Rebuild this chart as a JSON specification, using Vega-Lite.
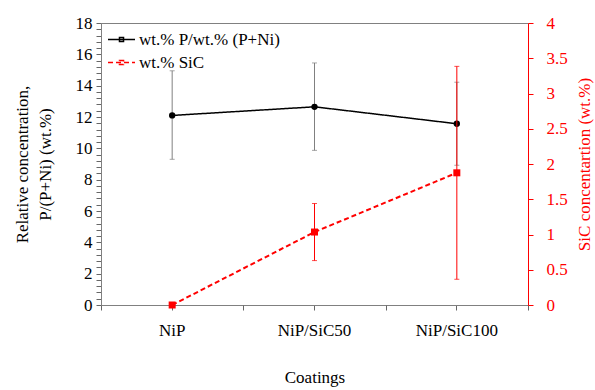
{
  "$schema": "https://vega.github.io/schema/vega-lite/v6.json",
  "width": 427,
  "height": 282,
  "autosize": {"type": "none"},
  "padding": {"left": 101, "top": 23, "right": 67, "bottom": 85},
  "background": "white",
  "config": {
    "view": {"stroke": "#808080", "strokeWidth": 1},
    "font": "Liberation Serif",
    "axis": {
      "labelFont": "Liberation Serif",
      "titleFont": "Liberation Serif",
      "labelFontSize": 17,
      "titleFontSize": 17,
      "titleFontWeight": "normal",
      "labelColor": "black",
      "titleColor": "black",
      "grid": false,
      "domainColor": "#808080",
      "ticks": true,
      "tickColor": "#666666",
      "tickWidth": 1,
      "tickOpacity": 1,
      "tickSize": 5
    },
    "legend": {
      "orient": "none",
      "legendX": 6,
      "legendY": 2,
      "labelFont": "Liberation Serif",
      "labelFontSize": 17,
      "labelColor": "black",
      "symbolSize": 729,
      "symbolStrokeWidth": 1.5,
      "symbolType": "M-1,0H1M-0.15,-0.15H0.15V0.15H-0.15Z",
      "rowPadding": -4,
      "labelOffset": 3,
      "padding": 0
    }
  },
  "data": {
    "values": [
      {"coating": "NiP", "p": 12.1, "p_lo": 9.3, "p_hi": 14.95, "sic": 0, "sic_lo": 0, "sic_hi": 0},
      {"coating": "NiP/SiC50", "p": 12.65, "p_lo": 9.87, "p_hi": 15.45, "sic": 1.035, "sic_lo": 0.63, "sic_hi": 1.44},
      {"coating": "NiP/SiC100", "p": 11.57, "p_lo": 8.92, "p_hi": 14.22, "sic": 1.875, "sic_lo": 0.365, "sic_hi": 3.385}
    ]
  },
  "layer": [
    {
      "mark": {"type": "rule", "color": "#808080", "strokeWidth": 1},
      "encoding": {
        "x": {"field": "coating", "type": "nominal", "sort": null,
          "scale": {"type": "band", "paddingInner": 0, "paddingOuter": 0},
          "axis": {"orient": "bottom", "labelAngle": 0, "tickBand": "center", "ticks": true, "tickColor": "#666666", "tickWidth": 1, "tickOpacity": 1, "tickDash": [], "tickSize": 5, "title": "Coatings", "labelPadding": 12, "titlePadding": 31}},
        "y": {"field": "p_lo", "type": "quantitative",
          "scale": {"domain": [0, 18], "nice": false},
          "axis": {
            "orient": "left",
            "title": ["Relative concentration,", "P/(P+Ni) (wt.%)"],
            "titleLineHeight": 23,
            "values": [0,0.4,0.8,1.2,1.6,2,2.4,2.8,3.2,3.6,4,4.4,4.8,5.2,5.6,6,6.4,6.8,7.2,7.6,8,8.4,8.8,9.2,9.6,10,10.4,10.8,11.2,11.6,12,12.4,12.8,13.2,13.6,14,14.4,14.8,15.2,15.6,16,16.4,16.8,17.2,17.6,18],
            "format": "~g",
            "labelExpr": "datum.value % 2 === 0 ? datum.label : ''",
            "labelOverlap": false,
            "labelFlush": false,
            "labelPadding": 4,
            "ticks": true,
            "tickColor": "#666666",
            "tickWidth": 1,
            "tickOpacity": 1,
            "tickDash": [],
            "tickSize": 5,
            "titlePadding": 21
          }},
        "y2": {"field": "p_hi"}
      }
    },
    {
      "mark": {"type": "tick", "color": "#808080", "thickness": 1, "size": 5},
      "encoding": {
        "x": {"field": "coating", "type": "nominal", "sort": null, "scale": {"type": "band", "paddingInner": 0, "paddingOuter": 0}, "axis": null},
        "y": {"field": "p_lo", "type": "quantitative", "scale": {"domain": [0, 18], "nice": false}, "axis": null}
      }
    },
    {
      "mark": {"type": "tick", "color": "#808080", "thickness": 1, "size": 5},
      "encoding": {
        "x": {"field": "coating", "type": "nominal", "sort": null, "scale": {"type": "band", "paddingInner": 0, "paddingOuter": 0}, "axis": null},
        "y": {"field": "p_hi", "type": "quantitative", "scale": {"domain": [0, 18], "nice": false}, "axis": null}
      }
    },
    {
      "mark": {"type": "line", "strokeWidth": 1.5},
      "encoding": {
        "x": {"field": "coating", "type": "nominal", "sort": null, "scale": {"type": "band", "paddingInner": 0, "paddingOuter": 0}, "axis": null},
        "y": {"field": "p", "type": "quantitative", "scale": {"domain": [0, 18], "nice": false}, "axis": null},
        "color": {
          "datum": "wt.% P/wt.% (P+Ni)",
          "scale": {"domain": ["wt.% P/wt.% (P+Ni)", "wt.% SiC"], "range": ["black", "red"]},
          "legend": {"title": null, "labelFont": "Liberation Serif", "labelFontSize": 17}
        },
        "strokeDash": {
          "datum": "wt.% P/wt.% (P+Ni)",
          "scale": {"domain": ["wt.% P/wt.% (P+Ni)", "wt.% SiC"], "range": [[1, 0], [5, 3]]},
          "legend": {"title": null, "labelFont": "Liberation Serif", "labelFontSize": 17}
        }
      }
    },
    {
      "mark": {"type": "point", "shape": "circle", "filled": true, "color": "black", "size": 40, "opacity": 1},
      "encoding": {
        "x": {"field": "coating", "type": "nominal", "sort": null, "scale": {"type": "band", "paddingInner": 0, "paddingOuter": 0}, "axis": null},
        "y": {"field": "p", "type": "quantitative", "scale": {"domain": [0, 18], "nice": false}, "axis": null}
      }
    },
    {
      "mark": {"type": "rule", "color": "red", "strokeWidth": 1},
      "encoding": {
        "x": {"field": "coating", "type": "nominal", "sort": null,
          "scale": {"type": "band", "paddingInner": 0, "paddingOuter": 0},
          "axis": {"orient": "bottom", "labels": false, "domain": false, "title": null, "ticks": true, "tickColor": "#666666", "tickWidth": 1, "tickOpacity": 1, "tickDash": [], "tickSize": 5, "tickBand": "extent"}},
        "y": {"field": "sic_lo", "type": "quantitative",
          "scale": {"domain": [0, 4], "nice": false},
          "axis": {
            "orient": "right",
            "title": "SiC concentartion (wt.%)",
            "values": [0, 0.5, 1, 1.5, 2, 2.5, 3, 3.5, 4],
            "format": "~g",
            "domainColor": "red",
            "ticks": true,
            "tickColor": "red",
            "tickWidth": 1,
            "tickOpacity": 1,
            "tickDash": [],
            "tickSize": 5,
            "labelColor": "red",
            "titleColor": "red",
            "labelPadding": 13,
            "titleAngle": 270,
            "titleBaseline": "top",
            "titlePadding": 9,
            "labelFlush": false,
            "labelOverlap": false
          }},
        "y2": {"field": "sic_hi"}
      }
    },
    {
      "mark": {"type": "tick", "color": "red", "thickness": 1, "size": 5},
      "encoding": {
        "x": {"field": "coating", "type": "nominal", "sort": null, "scale": {"type": "band", "paddingInner": 0, "paddingOuter": 0}, "axis": null},
        "y": {"field": "sic_lo", "type": "quantitative", "scale": {"domain": [0, 4], "nice": false}, "axis": null}
      }
    },
    {
      "mark": {"type": "tick", "color": "red", "thickness": 1, "size": 5},
      "encoding": {
        "x": {"field": "coating", "type": "nominal", "sort": null, "scale": {"type": "band", "paddingInner": 0, "paddingOuter": 0}, "axis": null},
        "y": {"field": "sic_hi", "type": "quantitative", "scale": {"domain": [0, 4], "nice": false}, "axis": null}
      }
    },
    {
      "mark": {"type": "line", "strokeWidth": 2},
      "encoding": {
        "x": {"field": "coating", "type": "nominal", "sort": null, "scale": {"type": "band", "paddingInner": 0, "paddingOuter": 0}, "axis": null},
        "y": {"field": "sic", "type": "quantitative", "scale": {"domain": [0, 4], "nice": false}, "axis": null},
        "color": {"datum": "wt.% SiC", "legend": {"title": null, "labelFont": "Liberation Serif", "labelFontSize": 17}},
        "strokeDash": {"datum": "wt.% SiC", "legend": {"title": null, "labelFont": "Liberation Serif", "labelFontSize": 17}}
      }
    },
    {
      "mark": {"type": "square", "filled": true, "color": "red", "size": 49, "opacity": 1},
      "encoding": {
        "x": {"field": "coating", "type": "nominal", "sort": null, "scale": {"type": "band", "paddingInner": 0, "paddingOuter": 0}, "axis": null},
        "y": {"field": "sic", "type": "quantitative", "scale": {"domain": [0, 4], "nice": false}, "axis": null}
      }
    }
  ],
  "resolve": {"scale": {"y": "independent"}, "axis": {"x": "independent"}}
}
